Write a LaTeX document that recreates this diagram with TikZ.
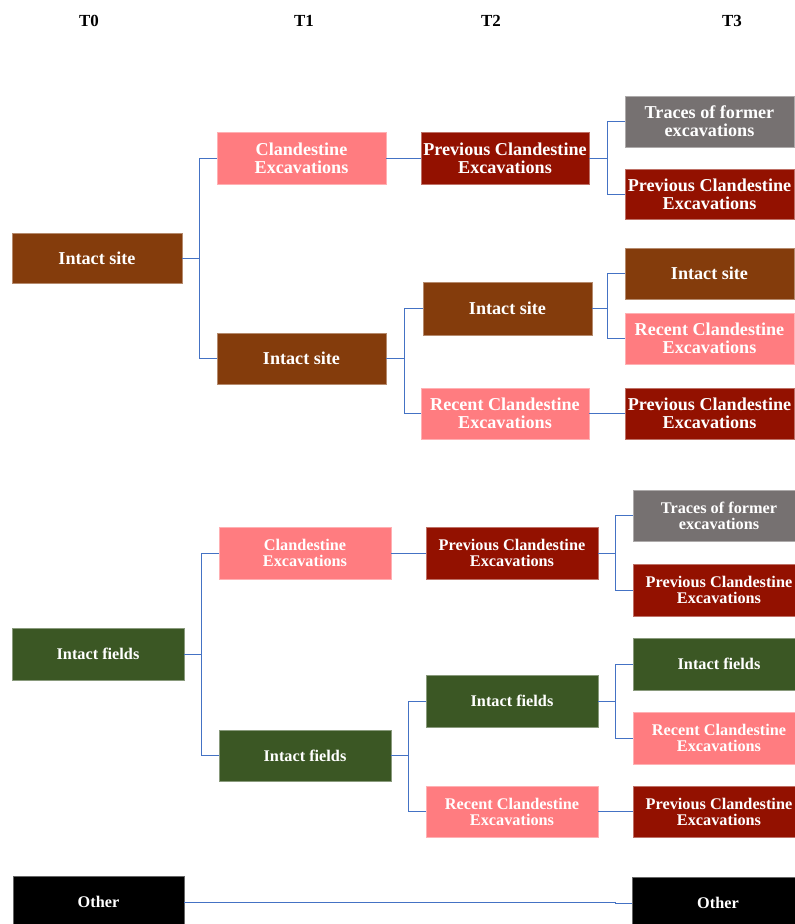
\documentclass[tikz,border=0pt]{standalone}
\usepackage{fontspec}
\setmainfont{Liberation Serif}
\definecolor{cbrown}{HTML}{843C0C}
\definecolor{csalmon}{HTML}{FF7C80}
\definecolor{cdred}{HTML}{931100}
\definecolor{cgray}{HTML}{767171}
\definecolor{cgreen}{HTML}{3B5724}
\definecolor{cblack}{HTML}{000000}
\definecolor{linkblue}{HTML}{4472C4}
\begin{document}
\begin{tikzpicture}[x=0.75pt,y=-0.75pt,
  box/.style={fill=#1, draw=#1!60!white, line width=0.5pt, text=white, align=center, inner sep=0pt},
  bigtxt/.style={font=\fontsize{13.6}{13.5}\selectfont\bfseries},
  smalltxt/.style={font=\fontsize{12.2}{12}\selectfont\bfseries},
  sz/.style 2 args={minimum width=#1*0.75pt, minimum height=#2*0.75pt},
  conn/.style={draw=linkblue, line width=0.75pt},
  hdr/.style={font=\fontsize{12.7}{13}\selectfont\bfseries, text=black, inner sep=0pt}]
\useasboundingbox[fill=white] (0,0) rectangle (794,924);

% headers
\node[hdr] (h0) at (89,21) {T0};
\node[hdr] (h1) at (304,21) {T1};
\node[hdr] (h2) at (491,21) {T2};
\node[hdr] (h3) at (732,21) {T3};

% ---------- top section ----------
\node[box=cbrown, bigtxt, sz={170}{50}] (a0) at (97,258) {Intact site};
\node[box=csalmon, bigtxt, sz={169}{52}] (a1c) at (301.5,158) {Clandestine\\Excavations};
\node[box=cbrown, bigtxt, sz={169}{51}] (a1i) at (301.5,358.5) {Intact site};
\node[box=cdred, bigtxt, sz={168}{52}] (a2p) at (505,158) {Previous Clandestine\\Excavations};
\node[box=cbrown, bigtxt, sz={169}{53}] (a2i) at (507.5,308.5) {Intact site};
\node[box=csalmon, bigtxt, sz={168}{51}] (a2r) at (505,413.5) {Recent Clandestine\\Excavations};
\node[box=cgray, bigtxt, sz={169}{51}] (a3t) at (709.5,121.5) {Traces of former\\excavations};
\node[box=cdred, bigtxt, sz={169}{50}] (a3p) at (709.5,194) {Previous Clandestine\\Excavations};
\node[box=cbrown, bigtxt, sz={169}{51}] (a3i) at (709.5,273.5) {Intact site};
\node[box=csalmon, bigtxt, sz={169}{51}] (a3r) at (709.5,338.5) {Recent Clandestine\\Excavations};
\node[box=cdred, bigtxt, sz={169}{51}] (a3q) at (709.5,413.5) {Previous Clandestine\\Excavations};

\coordinate (ja0) at (199,258);
\coordinate (ja2p) at (607,158);
\coordinate (ja1i) at (404,358.5);
\coordinate (ja2i) at (607,308.5);

\draw[conn] (a0.east) -- (ja0) |- (a1c.west);
\draw[conn] (ja0) |- (a1i.west);
\draw[conn] (a1c.east) -- (a2p.west);
\draw[conn] (a2p.east) -- (ja2p) |- (a3t.west);
\draw[conn] (ja2p) |- (a3p.west);
\draw[conn] (a1i.east) -- (ja1i) |- (a2i.west);
\draw[conn] (ja1i) |- (a2r.west);
\draw[conn] (a2i.east) -- (ja2i) |- (a3i.west);
\draw[conn] (ja2i) |- (a3r.west);
\draw[conn] (a2r.east) -- (a3q.west);

% ---------- lower section ----------
\node[box=cgreen, smalltxt, sz={172}{52}] (b0) at (98,654) {Intact fields};
\node[box=csalmon, smalltxt, sz={172}{52}] (b1c) at (305,553) {Clandestine\\Excavations};
\node[box=cgreen, smalltxt, sz={172}{51}] (b1i) at (305,755.5) {Intact fields};
\node[box=cdred, smalltxt, sz={172}{52}] (b2p) at (512,553) {Previous Clandestine\\Excavations};
\node[box=cgreen, smalltxt, sz={172}{52}] (b2i) at (512,701) {Intact fields};
\node[box=csalmon, smalltxt, sz={172}{51}] (b2r) at (512,811.5) {Recent Clandestine\\Excavations};
\node[box=cgray, smalltxt, sz={172}{51}] (b3t) at (719,515.5) {Traces of former\\excavations};
\node[box=cdred, smalltxt, sz={172}{52}] (b3p) at (719,590) {Previous Clandestine\\Excavations};
\node[box=cgreen, smalltxt, sz={172}{52}] (b3i) at (719,664) {Intact fields};
\node[box=csalmon, smalltxt, sz={172}{52}] (b3r) at (719,738) {Recent Clandestine\\Excavations};
\node[box=cdred, smalltxt, sz={172}{51}] (b3q) at (719,811.5) {Previous Clandestine\\Excavations};

\coordinate (jb0) at (201,654);
\coordinate (jb2p) at (615,553);
\coordinate (jb1i) at (408,755.5);
\coordinate (jb2i) at (615,701);

\draw[conn] (b0.east) -- (jb0) |- (b1c.west);
\draw[conn] (jb0) |- (b1i.west);
\draw[conn] (b1c.east) -- (b2p.west);
\draw[conn] (b2p.east) -- (jb2p) |- (b3t.west);
\draw[conn] (jb2p) |- (b3p.west);
\draw[conn] (b1i.east) -- (jb1i) |- (b2i.west);
\draw[conn] (jb1i) |- (b2r.west);
\draw[conn] (b2i.east) -- (jb2i) |- (b3i.west);
\draw[conn] (jb2i) |- (b3r.west);
\draw[conn] (b2r.east) -- (b3q.west);

% ---------- other ----------
\node[box=cblack, smalltxt, sz={171}{52}] (o1) at (98.5,902) {Other};
\node[box=cblack, smalltxt, sz={172}{52}] (o2) at (718,903) {Other};
\coordinate (jo) at (615,902);
\draw[conn] (o1.east) -- (jo) |- (o2.west);
\end{tikzpicture}
\end{document}
